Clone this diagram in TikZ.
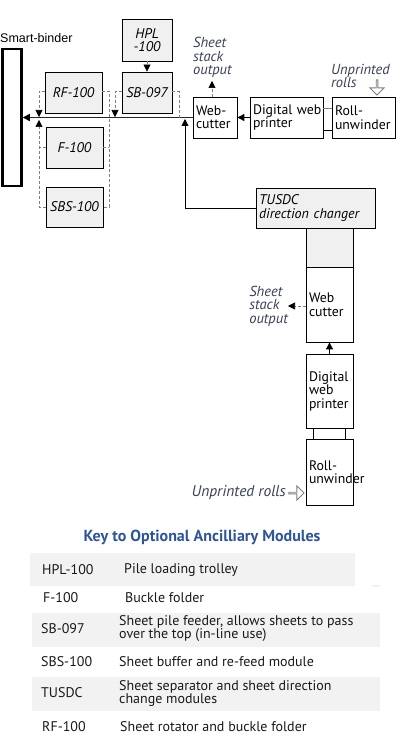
\documentclass[tikz,border=0pt]{standalone}
\usepackage{fontspec}
\setmainfont{PT Sans}
\newfontfamily\arialf{Liberation Sans}
\usetikzlibrary{arrows.meta,shapes.arrows}
\definecolor{boxgray}{HTML}{F0F0F0}
\definecolor{rowgray}{HTML}{F2F2F2}
\definecolor{dashgray}{HTML}{808080}
\definecolor{labcol}{HTML}{3A3F55}
\definecolor{keyblue}{HTML}{2F5597}
\begin{document}
\begin{tikzpicture}[x=1pt,y=-1pt,
  box/.style={draw=black, line width=0.8pt, inner sep=3pt, font=\fontsize{13.8}{13.5}\selectfont, align=left},
  gbox/.style={draw=black, line width=0.8pt, inner sep=2pt, fill=boxgray, font=\itshape\fontsize{14}{14}\selectfont, align=center},
  dline/.style={draw=dashgray, line width=0.6pt, dash pattern=on 3pt off 2pt},
  tipb/.style={-{Triangle[length=7pt,width=7pt,color=black]}},
  sline/.style={draw=black, line width=0.9pt},
  mline/.style={draw=black!85, line width=1.5pt},
  lab/.style={text=labcol, font=\itshape\fontsize{14.5}{13.5}\selectfont, align=left, inner sep=0pt},
  hollow/.style={single arrow, draw=gray, line width=0.9pt, fill=white, minimum height=15pt, minimum width=14pt, single arrow head extend=3.5pt, inner sep=0pt},
  keytxt/.style={font=\fontsize{14}{13}\selectfont, anchor=west, inner sep=0pt, align=left, text=black!90},
  row/.style={fill=rowgray, inner sep=0pt, anchor=north west}
]
\useasboundingbox (0,0) rectangle (404,741);
\fill[white] (0,0) rectangle (404,741);

% Smart-binder
\node[draw=black, line width=2.5pt, minimum width=19pt, minimum height=137pt, inner sep=0pt] (binder) at (12,117.5) {};
\node[font=\arialf\fontsize{12.5}{13}\selectfont, anchor=west, inner sep=0pt] (binderlab) at (0,38) {Smart-binder};

% top gray modules
\node[gbox, minimum width=50pt, minimum height=42pt] (hpl) at (147,40) {HPL\\[-1pt]-100};
\node[gbox, minimum width=50pt, minimum height=41pt] (sb) at (147,92.5) {SB-097};
\node[gbox, minimum width=57pt, minimum height=41pt] (rf) at (73.5,92.5) {RF-100};
\node[gbox, minimum width=57pt, minimum height=41pt] (f) at (74.5,147.5) {F-100};
\node[gbox, minimum width=57pt, minimum height=40pt] (sbs) at (74.5,207) {SBS-100};

% top row line
\node[box, minimum width=44pt, minimum height=41pt, text width=38pt] (wc1) at (215,117.5) {Web-\\cutter};
\node[box, minimum width=73pt, minimum height=41pt, text width=67pt] (dwp1) at (286.5,117.5) {\mbox{Digital web}\\printer};
\node[box, minimum width=63pt, minimum height=41pt, text width=57pt] (ru1) at (363.5,117.5) {Roll-\\unwinder};

% TUSDC and vertical line
\node[gbox, minimum width=119pt, minimum height=40pt, text width=113pt, align=left, inner sep=3pt] (tusdc) at (315.5,208) {TUSDC\\direction changer};
\node[draw=black, line width=0.8pt, fill=boxgray, minimum width=47pt, minimum height=39pt, inner sep=0pt] (gfill) at (329.5,247.5) {};
\node[box, minimum width=47pt, minimum height=75pt, text width=41pt] (wc2) at (329.5,304.5) {Web\\cutter};
\node[box, minimum width=47pt, minimum height=74pt, text width=41pt] (dwp2) at (329.5,391) {Digital\\web\\printer};
\node[box, minimum width=47pt, minimum height=66pt, text width=41pt] (ru2) at (329.5,472) {Roll-\\unwinder};

% labels
\node[lab, anchor=north west] (sso1) at (193,37) {Sheet\\stack\\output};
\node[lab, anchor=north west] (upr1) at (331,64) {Unprinted\\rolls};
\node[lab, anchor=east] (sso2) at (288,306) {Sheet\\stack\\output};
\node[lab, anchor=east, font=\itshape\fontsize{15.5}{14}\selectfont] (upr2) at (286,493) {Unprinted rolls};

% hollow arrows
\node[hollow, shape border rotate=270] (ha1) at (377,87) {};
\node[hollow] (ha2) at (296,493) {};

% main line
\draw[mline, tipb] (wc1.west) -- (binder.east);
\draw[sline, tipb] (dwp1.west) -- (wc1.east);
\draw[draw=gray, line width=0.6pt] ([yshift=9.5pt]dwp1.east) -- ([yshift=9.5pt]ru1.west);
\draw[sline] ([yshift=-12.5pt]dwp1.east) -- ([yshift=-12.5pt]ru1.west);

% TUSDC return line
\coordinate (tusup) at (185,119);
\draw[sline, tipb] (tusdc.west) -| (tusup);

% vertical
\draw[sline, tipb] (dwp2.north) -- (wc2.south);
\draw[sline] ([xshift=-16.5pt]dwp2.south) -- ([xshift=-16.5pt]ru2.north);
\draw[sline] ([xshift=15.5pt]dwp2.south) -- ([xshift=15.5pt]ru2.north);

% dashed sheet outputs
\coordinate (out1) at (212,81);
\draw[dline, tipb] ([xshift=-3pt]wc1.north) -- (out1);
\coordinate (out2) at (288,306);
\draw[dline, tipb] ([yshift=-1.5pt]wc2.west) -- (out2);

% HPL to SB
\draw[dline, tipb] (hpl.south) -- (sb.north);

% SB-097 dashed
\coordinate (sbL) at (115,117);
\coordinate (sbR) at (179,118);
\draw[dline, tipb] ([yshift=1pt]sb.west) -| (sbL);
\draw[dline] ([yshift=1pt]sb.east) -| (sbR);

% RF group dashed
\coordinate (rfL) at (39,117);
\coordinate (rfLu) at (39,120);
\coordinate (grR) at (109,207);
\draw[dline, tipb] ([yshift=1.5pt]rf.west) -| (rfL);
\draw[dline, tipb] (sbs.west) -| (rfLu);
\draw[dline] (f.west) -- (f.west -| rfL);
\draw[dline] ([yshift=1.5pt]rf.east) -| (grR) -- (sbs.east);
\draw[dline] (f.east) -- (f.east -| grR);

% Key
\node[font=\bfseries\fontsize{16}{16}\selectfont, text=keyblue, inner sep=0pt] (keytitle) at (202,537) {Key to Optional Ancilliary Modules};
\node[row, minimum width=325pt, minimum height=33pt] (row1) at (30,553) {};
\node[row, minimum width=8pt, minimum height=2pt] (row1b) at (372,585) {};
\node[row, minimum width=348pt, minimum height=34pt] (row3) at (32,613) {};
\node[row, minimum width=348pt, minimum height=34pt] (row5) at (32,677) {};

\node[keytxt] (k1a) at (42,570) {HPL-100};
\node[keytxt] (k1b) at (124,570) {Pile loading trolley};
\node[keytxt] (k2a) at (43,598) {F-100};
\node[keytxt] (k2b) at (125,598) {Buckle folder};
\node[keytxt] (k3a) at (41,629) {SB-097};
\node[keytxt] (k3b) at (119,629) {Sheet pile feeder, allows sheets to pass\\over the top (in-line use)};
\node[keytxt] (k4a) at (41,662) {SBS-100};
\node[keytxt] (k4b) at (119,662) {Sheet buffer and re-feed module};
\node[keytxt] (k5a) at (41,693) {TUSDC};
\node[keytxt] (k5b) at (119,693) {Sheet separator and sheet direction\\change modules};
\node[keytxt] (k6a) at (42,727) {RF-100};
\node[keytxt] (k6b) at (120,727) {Sheet rotator and buckle folder};
\end{tikzpicture}
\end{document}
